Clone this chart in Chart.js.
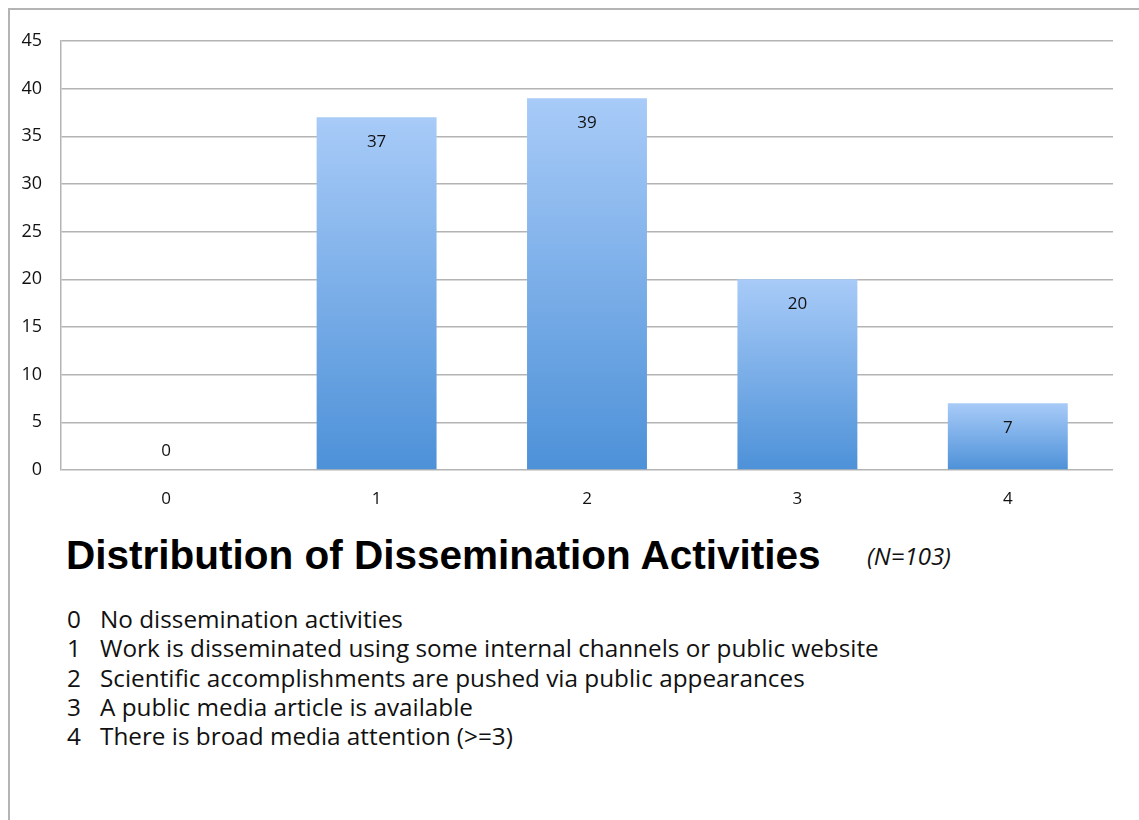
<!DOCTYPE html>
<html lang="en">
<head>
    <title>Distribution of Dissemination Activities</title>
    <script src="https://cdn.jsdelivr.net/npm/chart.js@4.4.1/dist/chart.umd.min.js"></script>
    <style>
        body { margin: 0; background: #fff; width: 1139px; height: 820px; position: relative; overflow: hidden; }
        .frame { position: absolute; left: 8px; top: 8px; width: 1140px; height: 820px;
                 border-left: 2px solid #b4b4b4; border-top: 2px solid #b4b4b4; }
        .plot { position: absolute; left: 0; top: 0; width: 1139px; height: 520px; }
        .title { position: absolute; left: 66px; top: 532px; font-family: "Liberation Sans", Arial, sans-serif;
                 font-weight: bold; font-size: 40.5px; line-height: 46px; color: #000; white-space: nowrap; }
        .note { position: absolute; left: 867px; top: 540px; font-family: "Open Sans", sans-serif;
                font-style: italic; font-size: 24px; line-height: 32px; color: #111; }
        .levels { position: absolute; left: 67px; top: 604px; font-family: "Open Sans", sans-serif;
                  font-size: 24.3px; line-height: 29.3px; color: #111; white-space: nowrap; }
        .levels span { display: inline-block; width: 33px; }
    </style>
</head>
<body>
    <div class="frame"></div>
    <div class="plot"><canvas id="distChart" width="1139" height="520"></canvas></div>
    <div class="title">Distribution of Dissemination Activities</div>
    <div class="note">(N=103)</div>
    <div class="levels" id="levels"></div>

<script>
    /* chart data */
    const categories = ["0", "1", "2", "3", "4"];
    const counts = [0, 37, 39, 20, 7];
    const yTicks = [0, 5, 10, 15, 20, 25, 30, 35, 40, 45];
    const levelText = [
        "No dissemination activities",
        "Work is disseminated using some internal channels or public website",
        "Scientific accomplishments are pushed via public appearances",
        "A public media article is available",
        "There is broad media attention (>=3)"
    ];

    /* level descriptions under the title */
    const levelsBox = document.getElementById("levels");
    levelText.forEach((t, i) => {
        const row = document.createElement("div");
        row.innerHTML = "<span>" + categories[i] + "</span>";
        row.appendChild(document.createTextNode(t));
        levelsBox.appendChild(row);
    });

    /* light top, darker bottom, one gradient per bar */
    function barFill(context) {
        const chart = context.chart;
        const y = chart.scales.y;
        if (!chart.chartArea || !y) return "#7fb0ea";
        const top = y.getPixelForValue(context.raw);
        const bottom = y.getPixelForValue(0);
        if (bottom - top < 1) return "#7fb0ea";
        const g = chart.ctx.createLinearGradient(0, top, 0, bottom);
        g.addColorStop(0, "#a8cbf8");
        g.addColorStop(1, "#4d91d8");
        return g;
    }

    /* value labels: inside the top of a bar, above it when the bar is empty */
    const valueLabels = {
        id: "valueLabels",
        afterDatasetsDraw(chart) {
            const ctx = chart.ctx;
            const meta = chart.getDatasetMeta(0);
            ctx.save();
            ctx.font = "17px 'Open Sans', sans-serif";
            ctx.fillStyle = "#111";
            ctx.textAlign = "center";
            ctx.textBaseline = "middle";
            meta.data.forEach((bar, i) => {
                const v = counts[i];
                const yPos = v > 0 ? bar.y + 25 : bar.y - 19;
                ctx.fillText(String(v), bar.x, yPos);
            });
            ctx.restore();
        }
    };

    const ctx = document.getElementById("distChart").getContext("2d");
    const distChart = new Chart(ctx, {
        type: "bar",
        data: {
            labels: categories,
            datasets: [{
                data: counts,
                backgroundColor: barFill,
                borderWidth: 0,
                barPercentage: 0.57,
                categoryPercentage: 1.0
            }]
        },
        options: {
            responsive: false,
            animation: false,
            plugins: {
                legend: { display: false },
                tooltip: { enabled: false },
                title: { display: false }
            },
            layout: {
                padding: { top: 41, right: 26, left: 0, bottom: 0 }
            },
            scales: {
                x: {
                    grid: { display: false },
                    border: { display: false },
                    ticks: {
                        color: "#111",
                        padding: 11,
                        font: { family: "'Open Sans', sans-serif", size: 17 }
                    },
                    afterFit: (scale) => { scale.height = 50; }
                },
                y: {
                    min: 0,
                    max: 45,
                    afterBuildTicks: (scale) => { scale.ticks = yTicks.map(v => ({ value: v })); },
                    grid: { color: "#b4b4b4", lineWidth: 1.5, drawTicks: false },
                    border: { display: true, color: "#b4b4b4", width: 1.5 },
                    ticks: {
                        color: "#111",
                        padding: 19,
                        font: { family: "'Open Sans', sans-serif", size: 18 }
                    },
                    afterFit: (scale) => { scale.width = 61; }
                }
            }
        },
        plugins: [valueLabels]
    });
</script>
</body>
</html>
